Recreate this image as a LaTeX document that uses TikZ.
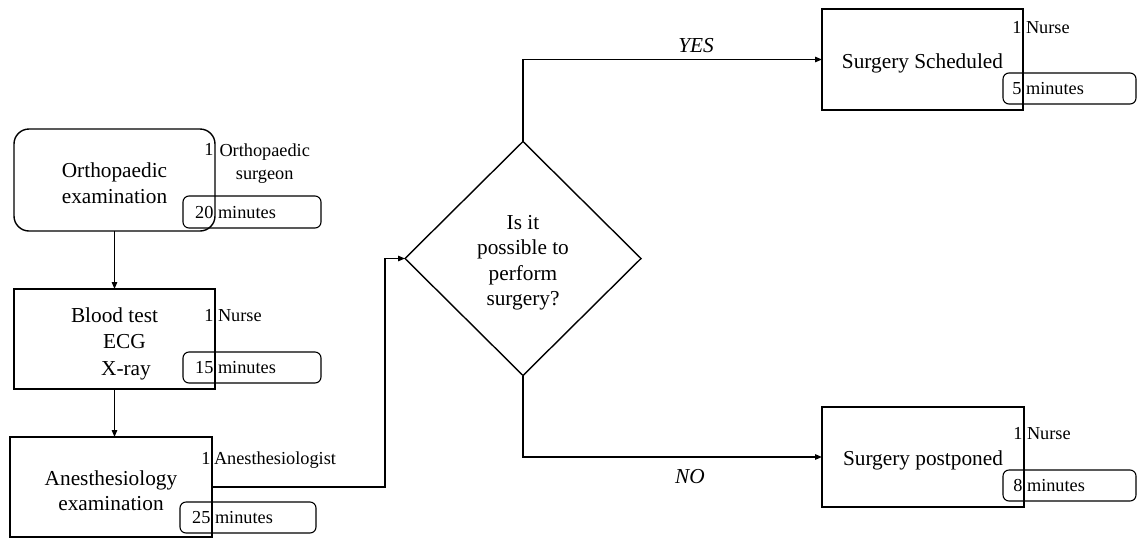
\documentclass[tikz,border=0pt]{standalone}
\usepackage{fontspec}
\setmainfont{Liberation Serif}
\usetikzlibrary{arrows.meta,shapes.geometric}
\newcommand\mainfs{\fontsize{21.3}{25.5}\selectfont}
\newcommand\smallfs{\fontsize{18.3}{23}\selectfont}
\begin{document}
\begin{tikzpicture}[x=1pt,y=-1pt,
  every node/.style={inner sep=0pt, outer sep=0pt},
  procbox/.style={draw, line width=1.4pt},
  steptext/.style={font=\mainfs, align=center},
  timebox/.style={draw, line width=1.1pt, rounded corners=6pt},
  small/.style={font=\smallfs},
  branch/.style={font=\mainfs\itshape},
  flow/.style={line width=1.3pt, -{Triangle[length=7pt,width=5.5pt]}}]
\useasboundingbox (0,0) rectangle (1137,539);

% process steps
\node[procbox, rounded corners=15pt, minimum width=201pt, minimum height=102pt] (ortho) at (114.5,180) {};
\node[steptext] (orthotxt) at (114.5,183) {Orthopaedic\\examination};
\node[procbox, minimum width=201pt, minimum height=100pt] (blood) at (114.5,339) {};
\node[steptext, font=\fontsize{21.3}{26.5}\selectfont] (bloodtxt) at (114.5,343.5) {Blood test\\\hspace*{20pt}ECG\\\hspace*{23pt}X-ray};
\node[procbox, minimum width=202pt, minimum height=100pt] (anest) at (111,487) {};
\node[steptext] (anesttxt) at (111,490.5) {Anesthesiology\\examination};
\node[draw, diamond, line width=1.4pt, minimum width=236pt, minimum height=234pt] (decide) at (523,258.5) {};
\node[steptext] (decidetxt) at (523,262.5) {Is it\\possible to\\perform\\surgery?};
\node[procbox, minimum width=201pt, minimum height=101pt] (sched) at (922.5,59.5) {};
\node[steptext] (schedtxt) at (922.5,63.5) {Surgery Scheduled};
\node[procbox, minimum width=202pt, minimum height=100pt] (postp) at (923,457) {};
\node[steptext] (postptxt) at (923,460.5) {Surgery postponed};

% duration boxes
\node[timebox, minimum width=138pt, minimum height=32pt] (m1) at (252,212) {};
\node[timebox, minimum width=138pt, minimum height=31pt] (m2) at (252,367.5) {};
\node[timebox, minimum width=136pt, minimum height=31pt] (m3) at (248,517.5) {};
\node[timebox, minimum width=133pt, minimum height=31pt] (m4) at (1069.5,88.5) {};
\node[timebox, minimum width=133pt, minimum height=31pt] (m5) at (1069.5,485.5) {};

% durations
\tikzset{num/.style={small, anchor=mid east, xshift=-1.5pt, yshift=-4pt},
         unit/.style={small, anchor=mid west, xshift=3pt, yshift=-4pt}}
\node[num] (d1) at (ortho.east |- m1.center) {20};
\node[unit] (u1) at (ortho.east |- m1.center) {minutes};
\node[num] (d2) at (blood.east |- m2.center) {15};
\node[unit] (u2) at (blood.east |- m2.center) {minutes};
\node[num] (d3) at (anest.east |- m3.center) {25};
\node[unit] (u3) at (anest.east |- m3.center) {minutes};
\node[num] (d4) at (sched.east |- m4.center) {5};
\node[unit] (u4) at (sched.east |- m4.center) {minutes};
\node[num] (d5) at (postp.east |- m5.center) {8};
\node[unit] (u5) at (postp.east |- m5.center) {minutes};

% staff
\node[num] (s1) at (ortho.east |- 0,149) {1};
\node[small, align=center, anchor=north west] (r1) at (219.5,144) {Orthopaedic\\surgeon};
\node[num] (s2) at (blood.east |- 0,315) {1};
\node[unit] (r2) at (blood.east |- 0,315) {Nurse};
\node[num] (s3) at (anest.east |- 0,458) {1};
\node[unit, xshift=-1pt] (r3) at (anest.east |- 0,458) {Anesthesiologist};
\node[num] (s4) at (sched.east |- 0,27) {1};
\node[unit] (r4) at (sched.east |- 0,27) {Nurse};
\node[num] (s5) at (postp.east |- 0,433) {1};
\node[unit] (r5) at (postp.east |- 0,433) {Nurse};

% connectors
\coordinate (bend) at (385,0);
\draw[flow] (ortho.south) -- (blood.north);
\draw[flow] (blood.south) -- (blood.south |- anest.north);
\draw[flow] (anest.east) -- (bend |- anest.east) -- (bend |- decide.west) -- (decide.west);
\draw[flow] (decide.north) |- (sched.west);
\draw[flow] (decide.south) |- (postp.west);

\node[branch] (yes) at (696,46) {YES};
\node[branch] (no) at (690,477) {NO};
\end{tikzpicture}
\end{document}
